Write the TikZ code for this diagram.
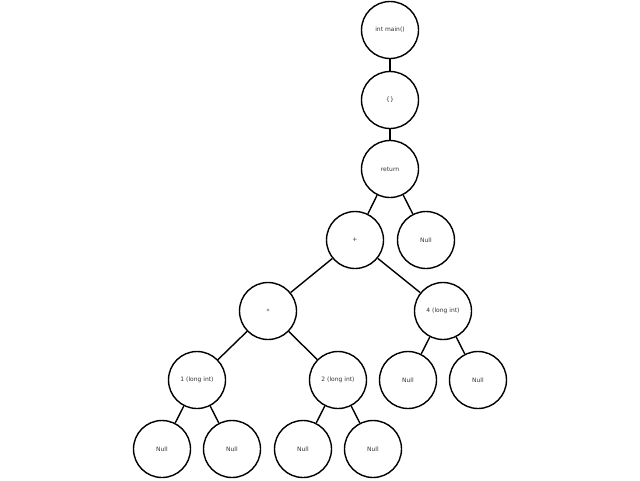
\documentclass[tikz,border=0pt]{standalone}
\usepackage{fontspec}
\setmainfont{DejaVu Sans}
\begin{document}
\begin{tikzpicture}[x=1pt,y=-1pt,
  tn/.style={circle,draw=black,line width=1.4pt,minimum size=57pt,inner sep=0pt,font=\fontsize{6}{7}\selectfont,text=black!80},
  ed/.style={line width=1.4pt}]
\useasboundingbox (0,0) rectangle (640,480);
\node[tn] (root) at (390,30) {int main()};
\node[tn] (br) at (390,100) {\{\}};
\node[tn] (ret) at (390,169) {return};
\node[tn] (plus) at (355,240) {+};
\node[tn] (nr) at (426,240) {Null};
\node[tn] (star) at (268,311) {*};
\node[tn] (four) at (443,311) {4 (long int)};
\node[tn] (one) at (197,380) {1 (long int)};
\node[tn] (two) at (338,380) {2 (long int)};
\node[tn] (n4a) at (408,380) {Null};
\node[tn] (n4b) at (478,380) {Null};
\node[tn] (n1a) at (162,449) {Null};
\node[tn] (n1b) at (232,449) {Null};
\node[tn] (n2a) at (303,449) {Null};
\node[tn] (n2b) at (373,449) {Null};
\draw[ed] (root) -- (br);
\draw[ed] (br) -- (ret);
\draw[ed] (ret) -- (plus);
\draw[ed] (ret) -- (nr);
\draw[ed] (plus) -- (star);
\draw[ed] (plus) -- (four);
\draw[ed] (star) -- (one);
\draw[ed] (star) -- (two);
\draw[ed] (four) -- (n4a);
\draw[ed] (four) -- (n4b);
\draw[ed] (one) -- (n1a);
\draw[ed] (one) -- (n1b);
\draw[ed] (two) -- (n2a);
\draw[ed] (two) -- (n2b);
\end{tikzpicture}
\end{document}
